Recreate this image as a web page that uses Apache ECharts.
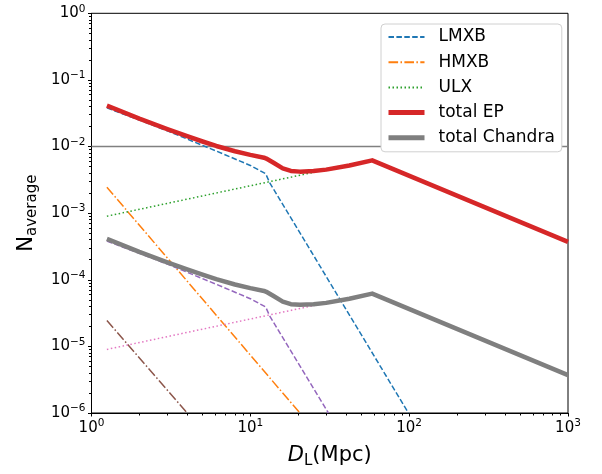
<!DOCTYPE html>
<html>
<head>
  <meta charset="UTF-8">
  <title>N_average vs D_L</title>
  <script src="https://cdn.jsdelivr.net/npm/echarts@6/dist/echarts.min.js"></script>
  <style>
    html, body { margin: 0; padding: 0; background: #fff; }
    #chart { width: 602px; height: 474px; }
  </style>
</head>
<body>
  <div id="chart"></div>
  <script>
    // data, [D_L (Mpc), N_average]
    const lmxbEP = [[1.25, 0.038], [2, 0.025], [3, 0.0172], [6, 0.0087], [10, 0.0052], [12.5, 0.0039], [13.2, 0.0029], [99, 1e-6]];
    const hmxbEP = [[1.25, 2.45e-3], [20.5, 1e-6]];
    const ulxEP = [[1.25, 9.0e-4], [58.5, 6.3e-3]];
    const totalEP = [[1.25, 0.041], [2, 0.0262], [3, 0.0183], [4, 0.0143], [5, 0.0119], [6.1, 0.0102], [8, 0.0085], [10, 0.0075], [12.2, 0.0068], [12.6, 0.0066], [14, 0.0057], [16, 0.0047], [18, 0.0043], [20.5, 0.0042], [25, 0.0043], [30, 0.0045], [42, 0.0052], [58.5, 0.0062], [1000, 3.7e-4]];
    const lmxbCh = [[1.25, 3.8e-4], [2, 2.5e-4], [3, 1.72e-4], [6, 8.7e-5], [10, 5.2e-5], [12.5, 3.9e-5], [13.2, 2.9e-5], [31, 1e-6]];
    const hmxbCh = [[1.25, 2.45e-5], [4.0, 1e-6]];
    const ulxCh = [[1.25, 9.0e-6], [58.5, 6.3e-5]];
    const totalCh = [[1.25, 4.1e-4], [2, 2.62e-4], [3, 1.83e-4], [4, 1.43e-4], [5, 1.19e-4], [6.1, 1.02e-4], [8, 8.5e-5], [10, 7.5e-5], [12.2, 6.8e-5], [12.6, 6.6e-5], [14, 5.7e-5], [16, 4.7e-5], [18, 4.3e-5], [20.5, 4.2e-5], [25, 4.3e-5], [30, 4.5e-5], [42, 5.2e-5], [58.5, 6.2e-5], [1000, 3.7e-6]];
    const limitLine = [[1, 0.01], [1000, 0.01]];

    const xMajor = [1, 10, 100, 1000];
    const yMajor = [1e-6, 1e-5, 1e-4, 1e-3, 1e-2, 1e-1, 1];
    const legendNames = ['LMXB', 'HMXB', 'ULX', 'total EP', 'total Chandra'];

    // minor ticks at 2..9 of every decade
    function minorTicks(lo, hi) {
      const out = [];
      for (let e = lo; e < hi; e++) {
        for (let m = 2; m <= 9; m++) out.push(+(m * Math.pow(10, e)).toPrecision(3));
      }
      return out;
    }
    const xMinor = minorTicks(0, 3);
    const yMinor = minorTicks(-6, 0);

    const font = 'DejaVu Sans';
    const supLabel = v => {
      const e = Math.round(Math.log10(v));
      return '{b|10}{s|' + String(e).replace('-', '\u2212') + '}';
    };
    const tickRich = {
      b: { fontSize: 15, fontFamily: font, color: '#000', lineHeight: 20 },
      s: { fontSize: 10.5, fontFamily: font, color: '#000', verticalAlign: 'top', lineHeight: 12 }
    };

    function line(name, data, color, width, type, z) {
      return {
        name, type: 'line', data, symbol: 'none', z: z || 2, silent: true,
        lineStyle: { color, width, type: type || 'solid', cap: 'butt', join: 'round' },
        itemStyle: { color }
      };
    }

    const chart = echarts.init(document.getElementById('chart'));
    chart.setOption({
      animation: false,
      backgroundColor: '#fff',
      grid: { left: 91.5, right: 34, top: 13.3, bottom: 54.5, show: true, borderColor: '#000', borderWidth: 1, containLabel: false },
      legend: {
        data: legendNames.map((n, i) => i < 3 ? { name: n } : { name: n, lineStyle: { width: 5 } }),
        left: 381, top: 24,
        orient: 'vertical',
        backgroundColor: '#fff',
        borderColor: '#d0d0d0', borderWidth: 1, borderRadius: 4,
        padding: [3, 7, 4, 5],
        itemWidth: 36, itemHeight: 14, itemGap: 5.2,
        itemStyle: { opacity: 0 },
        textStyle: { fontFamily: font, fontSize: 17, color: '#000', lineHeight: 20, padding: [0, 0, 0, 9] }
      },
      xAxis: [{
        type: 'log', logBase: 10, min: 1, max: 1000,
        name: '{i|D}{sub|L}{t|(Mpc)}', nameLocation: 'middle', nameGap: 30,
        nameTextStyle: {
          rich: {
            i: { fontFamily: font, fontSize: 21, fontStyle: 'italic', color: '#000', lineHeight: 26 },
            sub: { fontFamily: font, fontSize: 15, color: '#000', verticalAlign: 'bottom', lineHeight: 20 },
            t: { fontFamily: font, fontSize: 21, color: '#000', lineHeight: 26 }
          }
        },
        axisLine: { show: true, onZero: false, lineStyle: { color: '#000', width: 1 } },
        axisTick: { show: true, length: 3.5, lineStyle: { color: '#000', width: 1 }, customValues: xMajor },
        axisLabel: { margin: 5, formatter: supLabel, rich: tickRich, customValues: xMajor, showMinLabel: true, showMaxLabel: true },
        splitLine: { show: false }
      }, {
        type: 'log', logBase: 10, min: 1, max: 1000, position: 'bottom',
        axisLine: { show: false },
        axisTick: { show: true, length: 2.5, lineStyle: { color: '#000', width: 1 }, customValues: xMinor },
        axisLabel: { show: false },
        splitLine: { show: false }
      }],
      yAxis: [{
        type: 'log', logBase: 10, min: 1e-6, max: 1,
        name: '{n|N}{sub|average}', nameLocation: 'middle', nameGap: 50, nameRotate: 90,
        nameTextStyle: {
          rich: {
            n: { fontFamily: font, fontSize: 21, color: '#000', lineHeight: 26 },
            sub: { fontFamily: font, fontSize: 15, color: '#000', verticalAlign: 'bottom', lineHeight: 20 }
          }
        },
        axisLine: { show: true, onZero: false, lineStyle: { color: '#000', width: 1 } },
        axisTick: { show: true, length: 3.5, lineStyle: { color: '#000', width: 1 }, customValues: yMajor },
        axisLabel: { margin: 6, formatter: supLabel, rich: tickRich, customValues: yMajor, showMinLabel: true, showMaxLabel: true },
        splitLine: { show: false }
      }, {
        type: 'log', logBase: 10, min: 1e-6, max: 1, position: 'left',
        axisLine: { show: false },
        axisTick: { show: true, length: 2.5, lineStyle: { color: '#000', width: 1 }, customValues: yMinor },
        axisLabel: { show: false },
        splitLine: { show: false }
      }],
      series: [
        line('limit', limitLine, '#808080', 1.5, 'solid', 1),
        line('LMXB', lmxbEP, '#1f77b4', 1.5, [5.5, 2.4]),
        line('HMXB', hmxbEP, '#ff7f0e', 1.5, [9.6, 2.4, 1.5, 2.4]),
        line('ULX', ulxEP, '#2ca02c', 1.5, [1.5, 2.5]),
        line('total EP', totalEP, '#d62728', 4.5),
        line('LMXB Chandra', lmxbCh, '#9467bd', 1.5, [5.5, 2.4]),
        line('HMXB Chandra', hmxbCh, '#8c564b', 1.5, [9.6, 2.4, 1.5, 2.4]),
        line('ULX Chandra', ulxCh, '#e377c2', 1.5, [1.5, 2.5]),
        line('total Chandra', totalCh, '#7f7f7f', 4.5)
      ]
    });
  </script>
</body>
</html>
